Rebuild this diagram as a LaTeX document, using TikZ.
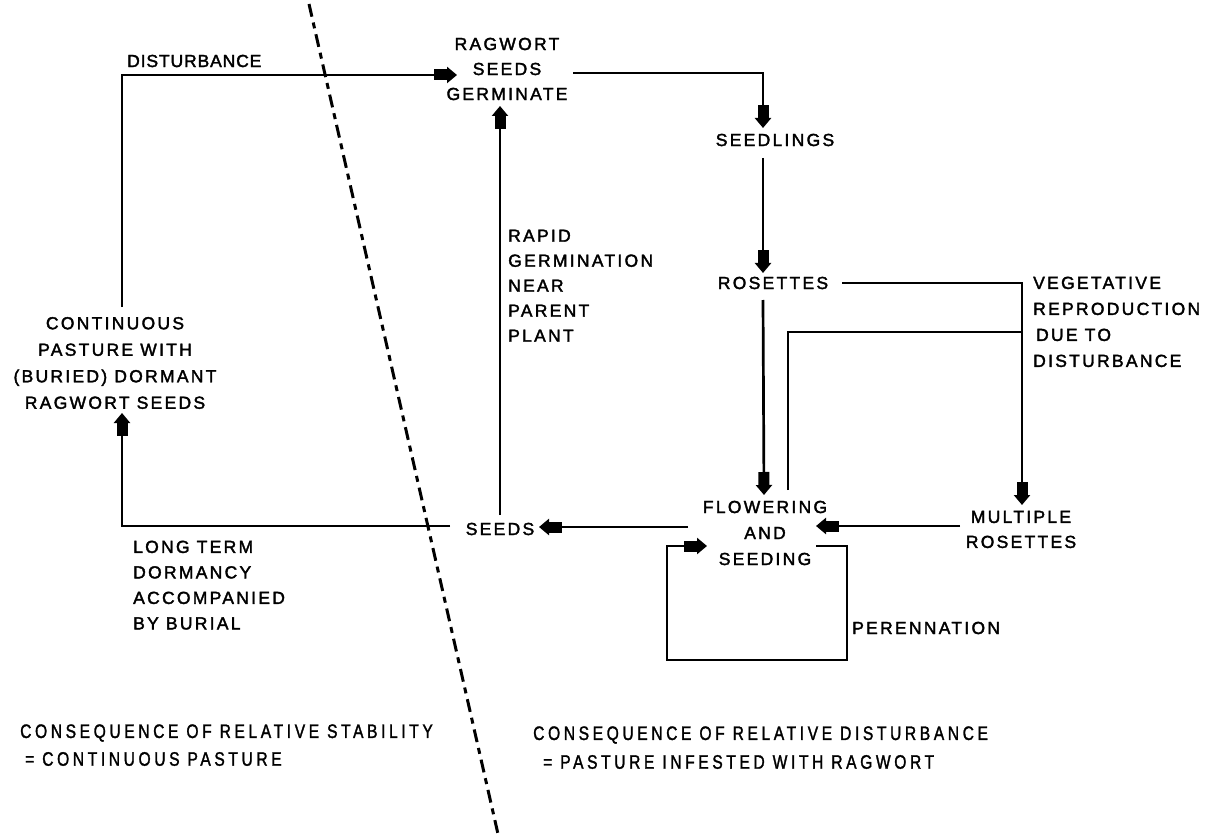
\documentclass[tikz,border=0pt]{standalone}
\usepackage{fontspec}
\usetikzlibrary{arrows.meta}
\newfontfamily\lblfont[LetterSpace=13,FakeBold=2]{Liberation Sans}
\newfontfamily\distfont[LetterSpace=5,FakeBold=2]{Liberation Sans}
\newfontfamily\condfont[FakeStretch=0.8,LetterSpace=18.5,FakeBold=1.5]{Liberation Sans}
\begin{document}
\begin{tikzpicture}[x=1pt,y=-1pt,
  lbl/.style={font={\lblfont\fontsize{17.5}{26}\selectfont}, inner sep=0pt},
  cond/.style={font={\condfont\fontsize{19.5}{26}\selectfont}, inner sep=0pt},
  flow/.style={line width=2.7pt, -{Rectangle[length=13pt,width=11pt]Triangle[length=10pt,width=16pt]}},
  plain/.style={line width=2.7pt},
  divider/.style={line width=3pt, dash pattern=on 13pt off 6pt on 6pt off 6pt}]
\useasboundingbox[fill=white] (0,0) rectangle (1212,834);

% labels
\node[inner sep=0pt,font={\distfont\fontsize{17.5}{20}\selectfont},anchor=west] (dist) at (127,61) {DISTURBANCE};
\node[lbl,align=center,font={\lblfont\fontsize{17.5}{25}\selectfont}] (rsg) at (507,69) {RAGWORT\\SEEDS\\GERMINATE};
\node[lbl] (sdl) at (775,140) {SEEDLINGS};
\node[lbl] (ros) at (773,283) {ROSETTES};
\node[lbl,align=left,anchor=north west] (veg) at (1033,276.5) {VEGETATIVE\\REPRODUCTION\\\,DUE TO\\DISTURBANCE};
\node[lbl,align=center] (flw) at (765,533) {FLOWERING\\AND\\SEEDING};
\node[lbl,align=center,font={\lblfont\fontsize{17.5}{25}\selectfont}] (mult) at (1021,529.5) {MULTIPLE\\ROSETTES};
\node[lbl] (seeds) at (500,529) {SEEDS};
\node[lbl,align=left,anchor=north west,font={\lblfont\fontsize{17.5}{25}\selectfont}] (rapid) at (508,229.5) {RAPID\\GERMINATION\\NEAR\\PARENT\\PLANT};
\node[lbl,align=center,font={\lblfont\fontsize{17.5}{26.5}\selectfont}] (cont) at (115,363) {CONTINUOUS\\PASTURE WITH\\(BURIED) DORMANT\\RAGWORT SEEDS};
\node[lbl,align=left,anchor=north west,font={\lblfont\fontsize{17.5}{25.5}\selectfont}] (long) at (133,540.5) {LONG TERM\\DORMANCY\\ACCOMPANIED\\BY BURIAL};
\node[lbl,anchor=west] (per) at (852,628) {PERENNATION};
\node[cond,anchor=west] (stab) at (20,733) {CONSEQUENCE OF RELATIVE STABILITY};
\node[cond,anchor=west] (stab2) at (25,759) {= CONTINUOUS PASTURE};
\node[cond,anchor=west] (dis) at (533,735) {CONSEQUENCE OF RELATIVE DISTURBANCE};
\node[cond,anchor=west] (dis2) at (543,762) {= PASTURE INFESTED WITH RAGWORT};

% connector end points
\coordinate (contTop) at (122,307);
\coordinate (rsgIn) at (457,75);
\coordinate (rsgOut) at (573,73);
\coordinate (sdlIn) at (763,128);
\coordinate (sdlOut) at (763,158);
\coordinate (rosIn) at (763,273);
\coordinate (rosOut) at (842,283);
\coordinate (rosDown) at (763,300);
\coordinate (multIn) at (1022,505);
\coordinate (flwIn) at (764,495);
\coordinate (flwUp) at (788,490);
\coordinate (vegJoin) at (1022,332);
\coordinate (multOut) at (960,526);
\coordinate (flwInR) at (816,526);
\coordinate (flwOutL) at (688,527);
\coordinate (seedsIn) at (539,527);
\coordinate (seedsUp) at (500,515);
\coordinate (rsgInB) at (500,106);
\coordinate (seedsOutL) at (450,526);
\coordinate (contIn) at (122,413);
\coordinate (perA) at (816,546);
\coordinate (perB) at (847,660);
\coordinate (perC) at (667,546);
\coordinate (perIn) at (707,546);

% connectors
\draw[flow] (contTop) |- (rsgIn);
\draw[flow] (rsgOut) -| (sdlIn);
\draw[flow] (sdlOut) -- (rosIn);
\draw[flow] (rosOut) -| (multIn);
\draw[flow] (rosDown) -- (flwIn);
\draw[plain] (flwUp) |- (vegJoin);
\draw[flow] (multOut) -- (flwInR);
\draw[flow] (flwOutL) -- (seedsIn);
\draw[flow] (seedsUp) -- (rsgInB);
\draw[flow] (seedsOutL) -| (contIn);
\draw[flow] (perA) -| (perB) -| (perC) -- (perIn);

% divider
\coordinate (divTop) at (309,4);
\coordinate (divBot) at (498,834);
\draw[divider] (divTop) -- (divBot);
\end{tikzpicture}
\end{document}
